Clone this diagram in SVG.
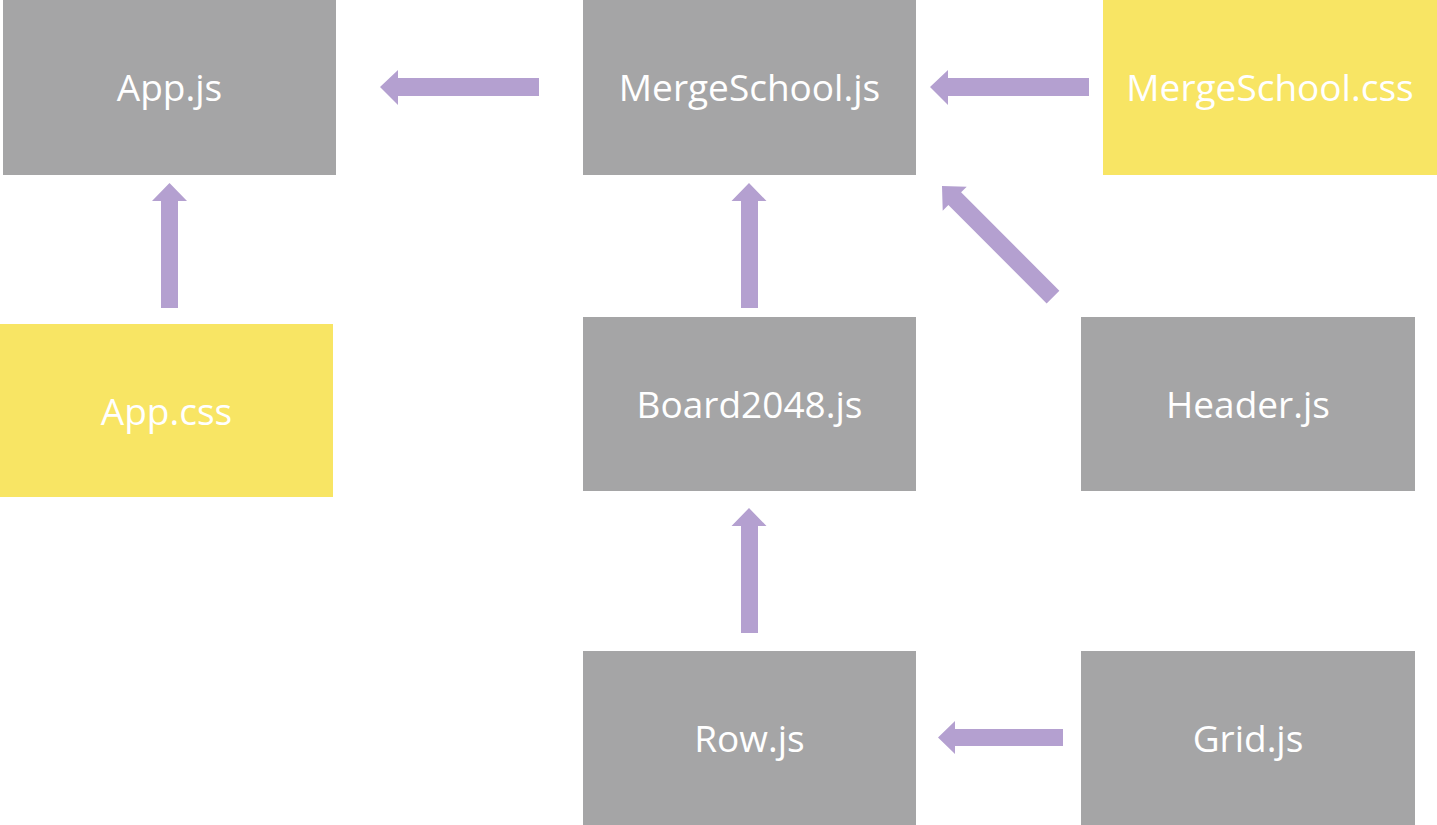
<svg xmlns="http://www.w3.org/2000/svg" width="1437" height="825" viewBox="0 0 1437 825">
<style>
.js{fill:#A5A5A6}
.css{fill:#F8E564}
.t{font-family:"Open Sans","Noto Sans",sans-serif;font-size:37px;fill:#fff;text-anchor:middle}
.a{fill:#B4A0D0}
</style>
<rect width="1437" height="825" fill="#fff"/>
<g id="app-js"><rect class="js" x="3" y="0" width="333" height="175"/><text class="t" x="169.5" y="101">App.js</text></g>
<g id="mergeschool-js"><rect class="js" x="583" y="0" width="333" height="175"/><text class="t" x="749.5" y="101">MergeSchool.js</text></g>
<g id="mergeschool-css"><rect class="css" x="1103" y="0" width="334" height="175"/><text class="t" x="1270" y="101">MergeSchool.css</text></g>
<g id="app-css"><rect class="css" x="0" y="324" width="333" height="173"/><text class="t" x="166.5" y="425">App.css</text></g>
<g id="board2048-js"><rect class="js" x="583" y="317" width="333" height="174"/><text class="t" x="749.5" y="418">Board2048.js</text></g>
<g id="header-js"><rect class="js" x="1081" y="317" width="334" height="174"/><text class="t" x="1248" y="418">Header.js</text></g>
<g id="row-js"><rect class="js" x="583" y="651" width="333" height="174"/><text class="t" x="749.5" y="752">Row.js</text></g>
<g id="grid-js"><rect class="js" x="1081" y="651" width="334" height="174"/><text class="t" x="1248" y="752">Grid.js</text></g>
<g id="connectors">
<polygon class="a" points="380,87 398,70 398,78 539,78 539,96 398,96 398,105"/>
<polygon class="a" points="930,87 948,70 948,78 1089,78 1089,96 948,96 948,105"/>
<polygon class="a" points="169.5,183 187,201 178,201 178,308 161,308 161,201 152,201"/>
<polygon class="a" points="749,183 766.5,201 758,201 758,308 741,308 741,201 731.5,201"/>
<polygon class="a" points="749,508 766.5,526 758,526 758,633 741,633 741,526 731.5,526"/>
<polygon class="a" points="938,737.5 955,721 955,729 1063,729 1063,746 955,746 955,754"/>
<polygon class="a" transform="rotate(45 942 186)" points="942,186 960,169 960,177 1099,177 1099,195 960,195 960,203"/>
</g>
</svg>
